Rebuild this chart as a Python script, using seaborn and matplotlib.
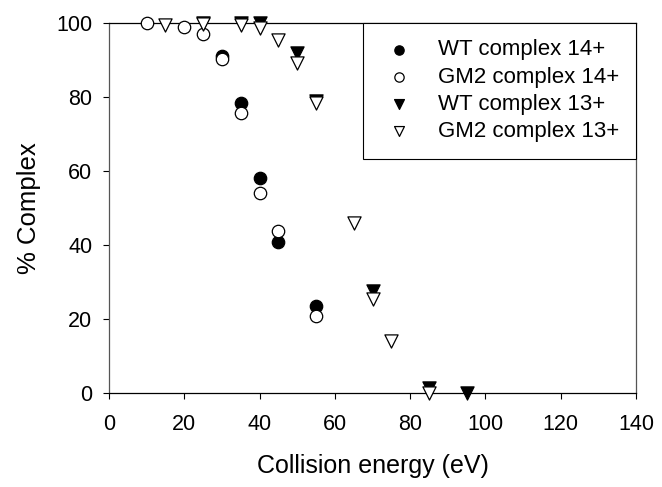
import matplotlib
matplotlib.use("Agg")
import matplotlib.pyplot as plt
import pandas as pd
import seaborn as sns

sns.set_theme(style="white")
plt.rcParams["font.family"] = ["Liberation Sans", "DejaVu Sans"]
plt.rcParams["text.color"] = "black"
plt.rcParams["axes.labelcolor"] = "black"
plt.rcParams["xtick.color"] = "black"
plt.rcParams["ytick.color"] = "black"

# collision energy (eV) and % complex for each series
wt14_energy = [30, 35, 40, 45, 55]
wt14_pct = [91.0, 78.4, 58.0, 40.7, 23.5]

gm14_energy = [10, 20, 25, 30, 35, 40, 45, 55]
gm14_pct = [99.8, 98.8, 97.0, 90.2, 75.5, 54.0, 43.8, 20.7]

wt13_energy = [25, 35, 40, 50, 55, 70, 85, 95]
wt13_pct = [100.0, 100.0, 100.0, 91.7, 78.8, 27.6, 1.2, 0.0]

gm13_energy = [15, 25, 35, 40, 45, 50, 55, 65, 70, 75, 85]
gm13_pct = [99.4, 99.6, 99.4, 98.5, 95.3, 89.2, 78.2, 46.0, 25.2, 14.0, 0.0]

series = [
    ("WT complex 14+", wt14_energy, wt14_pct, "o", "black", 80),
    ("GM2 complex 14+", gm14_energy, gm14_pct, "o", "white", 80),
    ("WT complex 13+", wt13_energy, wt13_pct, "v", "black", 90),
    ("GM2 complex 13+", gm13_energy, gm13_pct, "v", "white", 90),
]

fig = plt.figure(figsize=(6.62, 4.87), dpi=100)
ax = fig.add_axes([0.1647, 0.1936, 0.796, 0.7598])

for label, xs, ys, marker, face, size in series:
    df = pd.DataFrame({"energy": xs, "pct": ys})
    sns.scatterplot(data=df, x="energy", y="pct", marker=marker, s=size,
                    facecolor=face, edgecolor="black", linewidth=0.9,
                    label=label, ax=ax, clip_on=False, zorder=3)

ax.set_xlim(0, 140)
ax.set_ylim(0, 100)
ax.set_xticks(range(0, 141, 20))
ax.set_yticks(range(0, 101, 20))
ax.tick_params(axis="both", direction="out", length=4, width=0.8,
               labelsize=15.5, bottom=True, left=True)
ax.tick_params(axis="x", pad=11)
ax.tick_params(axis="y", pad=8)
for side in ["top", "bottom"]:
    ax.spines[side].set_color("black")
    ax.spines[side].set_linewidth(0.9)
for side in ["left", "right"]:
    ax.spines[side].set_color("#555555")
    ax.spines[side].set_linewidth(0.9)

ax.set_xlabel("Collision energy (eV)", fontsize=18, labelpad=14)
ax.set_ylabel("% Complex", fontsize=18.5, labelpad=11)

leg = ax.legend(loc="upper right", bbox_to_anchor=(1.0, 1.0), borderaxespad=0,
                fontsize=16, markerscale=0.75, frameon=True, fancybox=False,
                handletextpad=0.9, borderpad=0.75, labelspacing=0.28,
                handlelength=1.75)
leg.get_frame().set_edgecolor("black")
leg.get_frame().set_linewidth(0.8)
leg.get_frame().set_alpha(1)

fig.savefig("out.png", dpi=100)
